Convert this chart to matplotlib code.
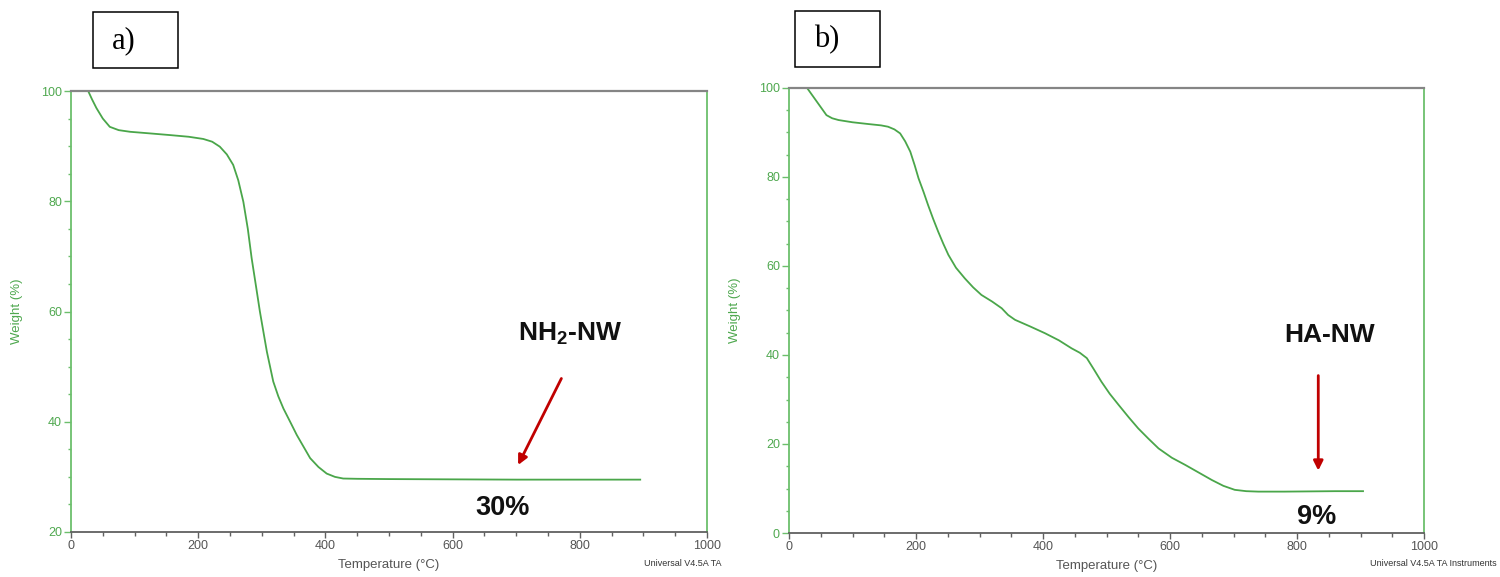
import matplotlib
matplotlib.use("Agg")
import matplotlib.pyplot as plt
from matplotlib.patches import Rectangle
from matplotlib.ticker import MultipleLocator

plt.rcParams['font.family'] = ['Liberation Sans', 'DejaVu Sans']
plt.rcParams['mathtext.fontset'] = 'custom'
plt.rcParams['mathtext.rm'] = 'Liberation Sans:bold'
plt.rcParams['mathtext.bf'] = 'Liberation Sans:bold'

# ---- data ----
temp_a = [27, 33, 40, 50, 61, 75, 93, 125, 156, 185, 208, 222, 234, 245, 255, 263,
          271, 278, 284, 291, 297, 303, 308, 318, 326, 334, 345, 355, 366, 376, 389,
          402, 415, 428, 450, 500, 600, 700, 800, 895]
weight_a = [100, 98.5, 96.9, 95.0, 93.5, 92.9, 92.6, 92.3, 92.0, 91.7, 91.3, 90.8, 89.9,
            88.5, 86.6, 83.8, 79.9, 75.0, 69.7, 64.5, 60.0, 56.0, 52.7, 47.3, 44.6, 42.4,
            39.9, 37.6, 35.4, 33.4, 31.8, 30.6, 30.0, 29.7, 29.65, 29.6, 29.55, 29.5,
            29.5, 29.5]

temp_b = [29, 36, 44, 52, 59, 68, 78, 100, 125, 145, 156, 166, 175, 183, 191, 198, 204,
          212, 219, 227, 235, 243, 251, 263, 277, 290, 303, 320, 335, 345, 356, 380, 403,
          425, 445, 458, 469, 480, 492, 505, 519, 535, 550, 566, 582, 603, 624, 645, 666,
          684, 702, 720, 739, 780, 820, 860, 904]
weight_b = [99.9, 98.5, 96.9, 95.3, 93.9, 93.2, 92.8, 92.3, 91.9, 91.6, 91.3, 90.7, 89.8,
            88.0, 85.7, 82.6, 79.7, 76.6, 73.7, 70.6, 67.7, 65.0, 62.5, 59.6, 57.2, 55.2,
            53.5, 52.0, 50.5, 49.0, 47.9, 46.4, 44.9, 43.3, 41.5, 40.5, 39.3, 36.8, 34.0,
            31.3, 28.8, 26.0, 23.5, 21.2, 19.0, 16.9, 15.3, 13.6, 11.9, 10.6, 9.7, 9.4,
            9.3, 9.3, 9.35, 9.4, 9.4]

x_ticks = [0, 200, 400, 600, 800, 1000]
y_ticks_a = [20, 40, 60, 80, 100]
y_ticks_b = [0, 20, 40, 60, 80, 100]

sample_a = r"NH$_2$-NW"
sample_b = "HA-NW"
residue_a = "30%"
residue_b = "9%"

CURVE = '#4aa64a'
SPINE_G = '#6cbf6c'
LBL_G = '#4fa84f'
GRAY = '#555555'
ARROW = '#c00000'

fig = plt.figure(figsize=(15, 5.77), dpi=100)


def style_axes(ax, yticks, ylim, footer, footer_x):
    ax.set_xlim(0, 1000)
    ax.set_ylim(*ylim)
    ax.set_xticks(x_ticks)
    ax.set_xticklabels([str(t) for t in x_ticks])
    ax.xaxis.set_minor_locator(MultipleLocator(50))
    ax.set_yticks(yticks)
    ax.yaxis.set_minor_locator(MultipleLocator(5))
    for s in ['left', 'right']:
        ax.spines[s].set_color(SPINE_G)
        ax.spines[s].set_linewidth(1.3)
    ax.spines['top'].set_color('#858585')
    ax.spines['top'].set_linewidth(1.6)
    ax.spines['bottom'].set_color('#606060')
    ax.spines['bottom'].set_linewidth(1.3)
    ax.tick_params(axis='x', which='major', direction='out', length=4, width=1,
                   color='#606060', labelcolor=GRAY, labelsize=9, pad=2)
    ax.tick_params(axis='x', which='minor', direction='out', length=3, width=1,
                   color='#606060')
    ax.tick_params(axis='y', which='major', direction='out', length=5, width=1,
                   color=SPINE_G, labelcolor=LBL_G, labelsize=9, pad=1.5)
    ax.tick_params(axis='y', which='minor', direction='out', length=2.5, width=1,
                   color=SPINE_G)
    ax.set_xlabel('Temperature (°C)', color=GRAY, fontsize=9.5, labelpad=5)
    ax.set_ylabel('Weight (%)', color=LBL_G, fontsize=9.5, labelpad=13)
    fig.text(footer_x, 1 - 568 / 577, footer, ha='right', va='bottom',
             fontsize=6.5, color='#333333')


ax1 = fig.add_axes([71 / 1500, 1 - 532 / 577, 636 / 1500, 441 / 577])
ax1.plot(temp_a, weight_a, color=CURVE, lw=1.3)
style_axes(ax1, y_ticks_a, (20, 100), 'Universal V4.5A TA', 721 / 1500)
ax1.annotate('', xy=(701, 31.7), xytext=(773, 48.3),
             arrowprops=dict(arrowstyle='-|>', color=ARROW, lw=2, mutation_scale=14))
ax1.text(785, 56.0, sample_a, ha='center', va='center', fontsize=19,
         fontweight='bold', color='#111111')
ax1.text(679, 24.4, residue_a, ha='center', va='center', fontsize=19.5,
         fontweight='bold', color='#111111')

ax2 = fig.add_axes([789 / 1500, 1 - 533 / 577, 635 / 1500, 445 / 577])
ax2.plot(temp_b, weight_b, color=CURVE, lw=1.3)
style_axes(ax2, y_ticks_b, (0, 100), 'Universal V4.5A TA Instruments', 1497 / 1500)
ax2.annotate('', xy=(833.5, 13.4), xytext=(833.5, 36.0),
             arrowprops=dict(arrowstyle='-|>', color=ARROW, lw=2, mutation_scale=14))
ax2.text(852, 44.5, sample_b, ha='center', va='center', fontsize=19,
         fontweight='bold', color='#111111')
ax2.text(831, 3.5, residue_b, ha='center', va='center', fontsize=19.5,
         fontweight='bold', color='#111111')

# panel label boxes
for (bx, by, bw, bh, tx, lab) in [(93, 12, 85, 56, 112, 'a)'), (795, 11, 85, 56, 814, 'b)')]:
    fig.add_artist(Rectangle((bx / 1500, 1 - (by + bh) / 577), bw / 1500, bh / 577,
                             transform=fig.transFigure, fill=False, ec='black', lw=1.1))
    fig.text(tx / 1500, 1 - (by + bh / 2 + 1) / 577, lab, ha='left', va='center',
             fontsize=22, family=['Liberation Serif', 'DejaVu Serif'], color='black')

fig.savefig('out.png', dpi=100)
